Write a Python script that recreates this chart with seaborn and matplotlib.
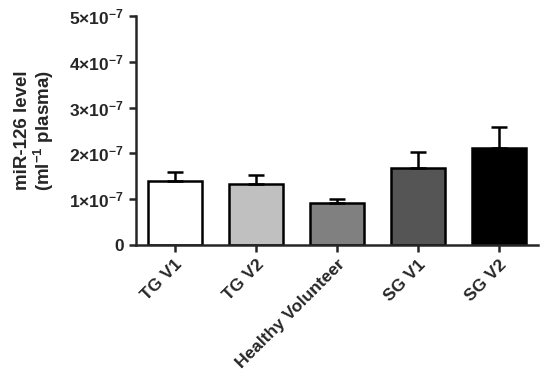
import matplotlib
matplotlib.use("Agg")
import matplotlib.pyplot as plt
import seaborn as sns
from matplotlib.ticker import FuncFormatter

groups = ['TG V1', 'TG V2', 'Healthy Volunteer', 'SG V1', 'SG V2']
means = [1.40e-7, 1.33e-7, 0.91e-7, 1.67e-7, 2.12e-7]
sem_upper = [0.20e-7, 0.20e-7, 0.10e-7, 0.36e-7, 0.45e-7]
bar_colors = ['#ffffff', '#c0c0c0', '#808080', '#555555', '#000000']

sns.set_style('ticks')
plt.rcParams['font.family'] = ['Liberation Sans', 'DejaVu Sans']
plt.rcParams['font.weight'] = 'bold'
plt.rcParams['mathtext.fontset'] = 'custom'
plt.rcParams['mathtext.rm'] = 'Liberation Sans:bold'
plt.rcParams['mathtext.bf'] = 'Liberation Sans:bold'
plt.rcParams['mathtext.it'] = 'Liberation Sans:bold'

fig = plt.figure(figsize=(5.5, 3.78), dpi=100)
ax = fig.add_axes([0.247, 0.352, 0.731, 0.606])

sns.barplot(x=groups, y=means, hue=groups, palette=bar_colors, legend=False,
            edgecolor='black', linewidth=1.8, width=0.67, ax=ax, errorbar=None)
ax.errorbar(range(len(groups)), means, yerr=[[0] * len(groups), sem_upper],
            fmt='none', ecolor='black', elinewidth=1.8, capsize=6, capthick=1.8, zorder=1)

ax.set_xlim(-0.48, 4.48)
ax.set_ylim(0, 5e-7)
ax.set_yticks([0, 1e-7, 2e-7, 3e-7, 4e-7, 5e-7])


def sci_fmt(v, pos):
    if v == 0:
        return '0'
    return r'$%d{\times}10^{-7}$' % round(v * 1e7)


ax.yaxis.set_major_formatter(FuncFormatter(sci_fmt))
ax.set_ylabel('miR-126 level\n(ml$^{-1}$ plasma)', fontsize=13.5, fontweight='bold',
              labelpad=10, linespacing=1.0)
ax.set_xlabel('')

for s in ['top', 'right']:
    ax.spines[s].set_visible(False)
for s in ['left', 'bottom']:
    ax.spines[s].set_linewidth(1.8)
ax.tick_params(axis='both', width=1.8, length=5, labelsize=12.5)
plt.setp(ax.get_xticklabels(), rotation=45, ha='right', rotation_mode='anchor', fontweight='bold')
plt.setp(ax.get_yticklabels(), fontweight='bold')

plt.savefig('out.png', dpi=100)
